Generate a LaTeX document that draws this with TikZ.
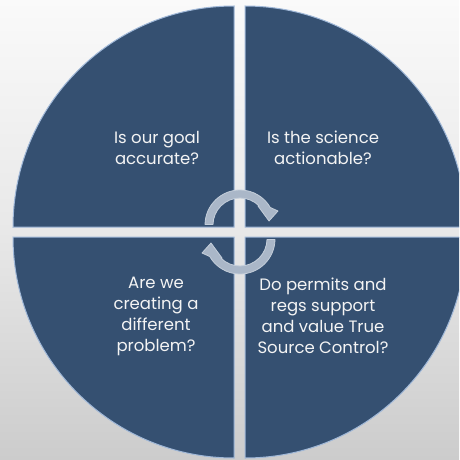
\documentclass[tikz,border=0pt]{standalone}
\usepackage{fontspec}
\setmainfont{Poppins}
\definecolor{quadfill}{RGB}{53,80,113}
\definecolor{quadedge}{RGB}{160,184,216}
\definecolor{arrowfill}{RGB}{170,183,200}
\definecolor{arrowedge}{RGB}{196,206,218}
\definecolor{txtcol}{RGB}{244,244,244}
\tikzset{
  quad/.style={fill=quadfill, draw=quadedge, line width=1pt},
  cyclearrow/.style={fill=arrowfill, draw=arrowedge, line width=0.8pt, line join=round},
  qtext/.style={text=txtcol, align=center, inner sep=0pt, font=\fontsize{16.5}{21}\selectfont}
}
\begin{document}
\begin{tikzpicture}[x=1pt,y=-1pt]
\useasboundingbox (0,0) rectangle (459,460);
\shade[top color=white!98!black, bottom color=white!80!black, middle color=white!91!black] (0,0) rectangle (459,460);
\begin{scope}
\clip (0,0) rectangle (459,460);
% quadrants
\path[quad] (234,227) -- (13,227) arc[start angle=180, end angle=270, radius=221] -- cycle;
\path[quad] (245,227) -- (245,6) arc[start angle=270, end angle=360, radius=221] -- cycle;
\path[quad] (245,237) -- (466,237) arc[start angle=0, end angle=90, radius=221] -- cycle;
\path[quad] (234,237) -- (234,458) arc[start angle=90, end angle=180, radius=221] -- cycle;
\end{scope}
% circular arrows
\foreach \cx/\cy/\rot in {240/225/0, 240/239/180}{
  \begin{scope}[shift={(\cx,\cy)}, rotate=\rot]
  \path[cyclearrow] (181:35) arc[start angle=181, end angle=330, radius=35]
     -- (38,-14) -- (29,-4) -- (18,-19)
     -- (315:27) arc[start angle=315, end angle=181, radius=27] -- cycle;
  \end{scope}
}
% texts
\node[qtext] (t1) at (157,148) {Is our goal\\accurate?};
\node[qtext] (t2) at (323,148) {Is the science\\actionable?};
\node[qtext] (t3) at (156,316) {Are we\\creating a\\different\\problem?};
\node[qtext] (t4) at (323,316) {Do permits and\\regs support\\and value True\\Source Control?};
\end{tikzpicture}
\end{document}
